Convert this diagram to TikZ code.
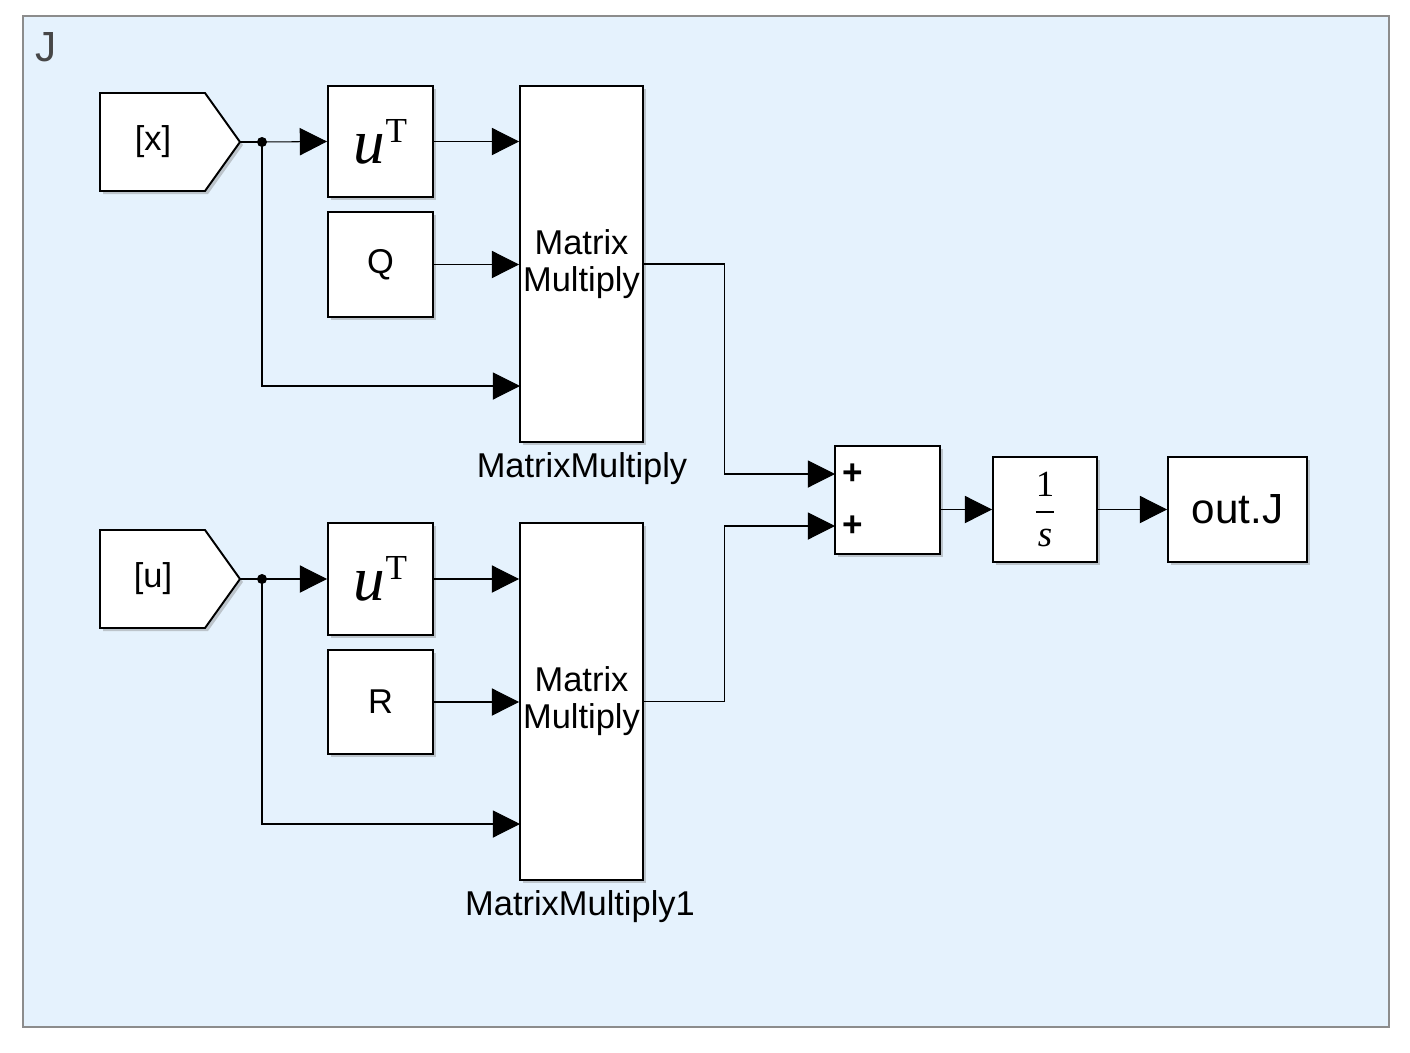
\documentclass[tikz,border=0pt]{standalone}
\usepackage{amsmath}
\usepackage[no-math]{fontspec}
\setmainfont{Liberation Sans}
\newfontfamily\blkserif{Liberation Serif}
\usetikzlibrary{calc}
\usetikzlibrary{arrows.meta}
\usetikzlibrary{shadows}
\definecolor{areablue}{HTML}{E5F2FD}
\definecolor{areaframe}{HTML}{8C8C8C}
\newcommand{\utrans}{{\blkserif\fontsize{36}{38}\selectfont\itshape u}\raisebox{12pt}{\blkserif\fontsize{20}{20}\selectfont T}}

\begin{document}
\begin{tikzpicture}[x=0.02cm,y=-0.02cm,
  blk/.style={draw,line width=1.1pt,fill=white,inner sep=0pt,
    drop shadow={shadow xshift=0.06cm,shadow yshift=-0.06cm,opacity=0.4}},
  sig/.style={line width=0.6pt,-{Triangle[length=15.5pt,width=15.5pt]}},
  wire/.style={line width=0.6pt},
  txt/.style={font=\fontsize{19.6}{21}\selectfont}]

\useasboundingbox (0,0) rectangle (1410,1052);
\draw[areaframe,fill=areablue,line width=0.8pt] (23,16) rectangle (1389,1027);
\node[anchor=base west,inner sep=0pt,text=black!72,font=\fontsize{24}{24}\selectfont] (title) at (35,61) {J};

% goto blocks
\draw[line width=1.1pt,fill=white,drop shadow={shadow xshift=0.06cm,shadow yshift=-0.06cm,opacity=0.4}]
  (100,93) -- (205,93) -- (240,142) -- (205,191) -- (100,191) -- cycle;
\draw[line width=1.1pt,fill=white,drop shadow={shadow xshift=0.06cm,shadow yshift=-0.06cm,opacity=0.4}]
  (100,530) -- (205,530) -- (240,579) -- (205,628) -- (100,628) -- cycle;
\node[txt] (xtag) at (153,142) {[x]};
\node[txt] (utag) at (153,579) {[u]};
\coordinate (xtip) at (240,142);
\coordinate (utip) at (240,579);
\coordinate (xdot) at (262,142);
\coordinate (udot) at (262,579);

% upper row
\node[blk,minimum width=2.1cm,minimum height=2.22cm] (xT) at (380.5,141.5) {\utrans};
\node[blk,txt,minimum width=2.1cm,minimum height=2.1cm] (qmat) at (380.5,264.5) {Q};
\node[blk,txt,align=center,minimum width=2.46cm,minimum height=7.12cm] (mmx) at (581.5,264) {Matrix\\Multiply};
\node[txt] (mmxlabel) at (582,469) {MatrixMultiply};
\coordinate (mmx3) at (520,386);

% lower row
\node[blk,minimum width=2.1cm,minimum height=2.24cm] (uT) at (380.5,579) {\utrans};
\node[blk,txt,minimum width=2.1cm,minimum height=2.08cm] (rmat) at (380.5,702) {R};
\node[blk,txt,align=center,minimum width=2.46cm,minimum height=7.14cm] (mmu) at (581.5,701.5) {Matrix\\Multiply};
\node[txt] (mmulabel) at (580,907) {MatrixMultiply1};
\coordinate (mmu3) at (520,824);

% sum, integrator, output
\node[blk,minimum width=2.1cm,minimum height=2.16cm] (sum) at (887.5,500) {};
\node[font=\fontsize{20}{20}\bfseries] (plus1) at (853,474) {+};
\node[font=\fontsize{20}{20}\bfseries] (plus2) at (853,526) {+};
\coordinate (sumin1) at (835,474);
\coordinate (sumin2) at (835,526);
\node[blk,minimum width=2.08cm,minimum height=2.1cm,font=\fontsize{21}{22}\selectfont] (integ) at (1045,509.5)
  {$\genfrac{}{}{1.4pt}{0}{\mbox{\blkserif 1}}{\mbox{\blkserif\itshape s}}$};
\node[blk,minimum width=2.78cm,minimum height=2.1cm,font=\fontsize{24}{26}\selectfont] (outJ) at (1237.5,509.5) {out.J};

\draw[wire] (xtip) -- (xdot);
\draw[wire] (utip) -- (udot);
\fill (xdot) circle[radius=0.1cm];
\fill (udot) circle[radius=0.1cm];

\draw[sig] (xdot) -- (xT.west);
\draw[sig] (xT) -- (xT -| mmx.west);
\draw[sig] (qmat) -- (qmat -| mmx.west);
\draw[sig] (xdot) |- (mmx3);

\draw[sig] (udot) -- (uT.west);
\draw[sig] (uT) -- (uT -| mmu.west);
\draw[sig] (rmat) -- (rmat -| mmu.west);
\draw[sig] (udot) |- (mmu3);

\draw[sig] (mmx.east) -- ++(81,0) |- (sumin1);
\draw[sig] (mmu.east) -- ++(81,0) |- (sumin2);
\draw[sig] (sum.east |- integ.west) -- (integ.west);
\draw[sig] (integ) -- (outJ);

\end{tikzpicture}
\end{document}
